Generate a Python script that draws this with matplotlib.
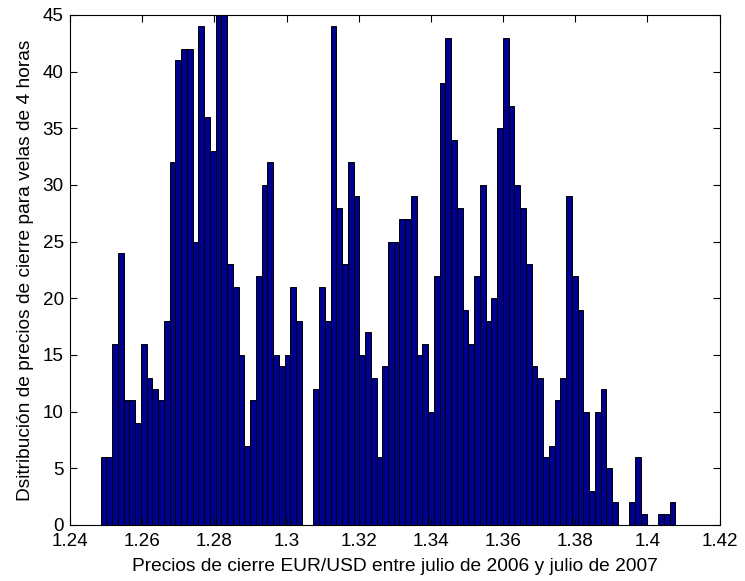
import numpy as np
import matplotlib.pyplot as plt

# histograma de precios de cierre (100 clases, como hist(x,100) de MATLAB)
precio_min = 1.2485
precio_max = 1.4077
conteos = [6, 6, 16, 24, 11, 11, 9, 16, 13, 12,
           11, 18, 32, 41, 42, 42, 25, 44, 36, 33,
           45, 45, 23, 21, 15, 7, 11, 22, 30, 32,
           15, 14, 15, 21, 18, 0, 0, 12, 21, 18,
           44, 28, 23, 32, 29, 15, 17, 13, 6, 14,
           25, 25, 27, 27, 29, 15, 16, 10, 22, 39,
           43, 34, 28, 19, 16, 22, 30, 18, 20, 35,
           43, 37, 30, 28, 23, 14, 13, 6, 7, 11,
           13, 29, 22, 19, 10, 3, 10, 12, 5, 2,
           0, 0, 2, 6, 1, 0, 0, 1, 1, 2]

xticks = [1.24, 1.26, 1.28, 1.3, 1.32, 1.34, 1.36, 1.38, 1.4, 1.42]
xticklabels = ['1.24', '1.26', '1.28', '1.3', '1.32', '1.34', '1.36', '1.38', '1.4', '1.42']
yticks = [0, 5, 10, 15, 20, 25, 30, 35, 40, 45]

plt.rcParams['font.family'] = ['Liberation Sans', 'DejaVu Sans']

fig = plt.figure(figsize=(7.45, 5.81), dpi=100)
ax = fig.add_axes([0.094, 0.0964, 0.872, 0.8778])

bordes = np.linspace(precio_min, precio_max, len(conteos) + 1)
ax.bar(bordes[:-1], conteos, width=np.diff(bordes), align='edge',
       color=(0, 0, 0.5625), edgecolor='black', linewidth=0.7)

ax.set_xlim(1.24, 1.42)
ax.set_ylim(0, 45)
ax.set_xticks(xticks)
ax.set_xticklabels(xticklabels)
ax.set_yticks(yticks)
ax.tick_params(direction='in', top=True, right=True, length=5, labelsize=13.6, width=0.8)
ax.tick_params(axis='x', pad=5.5)
ax.tick_params(axis='y', pad=4.5)
for s in ax.spines.values():
    s.set_linewidth(0.8)

ax.set_xlabel('Precios de cierre EUR/USD entre julio de 2006 y julio de 2007', fontsize=13.8, labelpad=6)
ax.set_ylabel('Dsitribución de precios de cierre para velas de 4 horas', fontsize=13.8, labelpad=6)

fig.savefig('out.png', dpi=100)
